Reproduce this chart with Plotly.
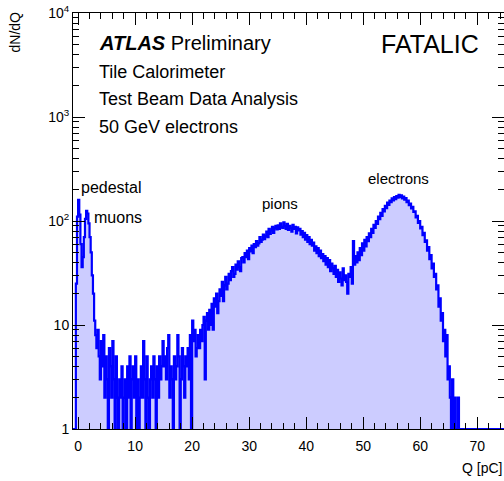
import plotly.graph_objects as go

# ---- data (histogram of charge Q, bin width 0.2 pC starting at -1.0 pC) ----
bin_start = -1.0
bin_width = 0.2

counts_pedestal = [0, 0, 1, 25, 110, 160, 115, 60, 36, 45,
                   70, 105, 125, 118, 95, 70, 50, 30, 20, 11]          # -1.0 .. 2.8
counts_noise = [8, 6, 9, 5, 3, 7, 4, 8, 2, 5,
                3, 0, 6, 4, 2, 7, 3, 1, 5, 2,
                0, 3, 2, 4, 0, 2, 3, 1, 4, 2,
                5, 0, 3, 4, 2, 5, 1, 3, 0, 2,
                4, 2, 7, 3, 0, 5, 2, 1, 3, 4,
                2, 5, 3, 0, 4, 2, 5, 3, 4, 7,
                4, 5, 3, 6, 8, 2, 4, 3, 0, 5,
                3, 4, 8, 5, 0, 3, 6, 4, 2, 5,
                4, 6, 3, 8, 0, 11, 7, 9, 5, 6]                          # 3.0 .. 20.8
counts_pions = [8, 6, 9, 7, 10, 12, 3, 11, 13, 9,
                14, 10, 16, 9, 18, 15, 20, 13, 17, 22,
                19, 26, 17, 24, 29, 22, 25, 31, 27, 33,
                36, 29, 31, 38, 34, 41, 36, 33, 44, 45,
                40, 49, 45, 52, 43, 55, 51, 58, 49, 60,
                56, 64, 58, 61, 70, 63, 66, 74, 67, 72,
                79, 70, 84, 75, 81, 88, 77, 86, 90, 83,
                91, 84, 95, 88, 86, 97, 89, 84, 94, 82,
                90, 86, 79, 92, 84, 88, 76, 87, 81, 84,
                74, 80, 70, 77, 66, 73, 63, 70, 60, 66,
                58, 62, 52, 57, 49, 55, 46, 52, 44, 48,
                41, 46, 38, 44, 36, 42, 33, 39, 35, 31,
                37, 29, 34, 26, 32, 28, 24, 35, 27, 30]                 # 21.0 .. 46.8
counts_electrons = [26, 20, 31, 29, 36, 25, 64, 38, 46, 40,
                    50, 42, 55, 47, 61, 52, 66, 57, 70, 64,
                    76, 70, 84, 77, 92, 86, 100, 94, 110, 104,
                    120, 112, 130, 124, 140, 133, 150, 143, 157, 152,
                    165, 158, 170, 162, 174, 168, 178, 170, 176, 165,
                    172, 160, 166, 152, 157, 142, 147, 132, 137, 122,
                    124, 108, 112, 96, 100, 85, 88, 73, 77, 63,
                    65, 52, 56, 43, 47, 35, 39, 29, 31, 22,
                    24, 15, 18, 11, 13, 7, 9, 5, 8, 3,
                    4, 2, 1, 3, 0, 2, 0, 1, 2, 0]                        # 47.0 .. 66.8
counts_empty = [0, 0, 0, 0, 0, 0, 0, 0, 0, 0,
                0, 0, 0, 0, 0, 0, 0, 0, 0, 0,
                0, 0, 0, 0, 0, 0, 0, 0, 0, 0,
                0, 0, 0, 0, 0, 0, 0, 0, 0, 0]                           # 67.0 .. 74.8

x_tickvals = [0, 10, 20, 30, 40, 50, 60, 70]
y_tickvals = [1, 10, 100, 1000, 10000]
y_ticktext = ["1", "10", "10<sup>2</sup>", "10<sup>3</sup>", "10<sup>4</sup>"]

counts = counts_pedestal + counts_noise + counts_pions + counts_electrons + counts_empty
edges = [bin_start + i * bin_width for i in range(len(counts) + 1)]
yvals = [max(c, 1) for c in counts]
yvals = yvals + [yvals[-1]]

# ---- layout geometry (pixels) ----
W, H = 504, 481
L, R, T, B = 73, 0, 13, 52
PW, PH = W - L - R, H - T - B


def px(x):
    return (x - L) / PW


def py(y):
    return (H - B - y) / PH


FONT = "Liberation Sans, Arial, Helvetica, sans-serif"

fig = go.Figure()
fig.add_trace(go.Scatter(x=edges, y=[1] * len(edges), mode="lines",
                         line=dict(width=0, shape="hv"), hoverinfo="skip",
                         showlegend=False))
fig.add_trace(go.Scatter(x=edges, y=yvals, mode="lines",
                         line=dict(color="#0000ff", width=2.2, shape="hv"),
                         fill="tonexty", fillcolor="rgba(204,204,255,1)",
                         showlegend=False))

minor_x = [v for v in range(2, 75, 2) if v % 10 != 0]
minor_y = [m * 10 ** e for e in range(4) for m in range(2, 10)]

fig.update_xaxes(range=[-0.9, 74.7], showgrid=False, zeroline=False,
                 showline=True, linecolor="black", linewidth=1, mirror="allticks",
                 ticks="inside", ticklen=12, tickwidth=1, tickcolor="black",
                 tickmode="array", tickvals=x_tickvals, ticklabelstandoff=4,
                 minor=dict(ticks="inside", ticklen=6, tickcolor="black",
                            tickmode="array", tickvals=minor_x, showgrid=False),
                 tickfont=dict(family=FONT, size=14, color="black"))
fig.update_yaxes(type="log", range=[0, 4], showgrid=False, zeroline=False,
                 showline=True, linecolor="black", linewidth=1, mirror="allticks",
                 ticks="inside", ticklen=12, tickwidth=1, tickcolor="black",
                 tickmode="array", tickvals=y_tickvals, ticktext=y_ticktext,
                 minor=dict(ticks="inside", ticklen=6, tickcolor="black",
                            tickmode="array", tickvals=minor_y, showgrid=False),
                 tickfont=dict(family=FONT, size=14, color="black"))

ann = []


def text(x, y, s, size, xanchor="left", yanchor="middle", angle=0):
    ann.append(dict(x=px(x), y=py(y), xref="paper", yref="paper", text=s,
                    showarrow=False, xanchor=xanchor, yanchor=yanchor,
                    textangle=angle, font=dict(family=FONT, size=size, color="black")))


text(97, 43, "<b><i>ATLAS</i></b> Preliminary", 20)
text(97, 72, "Tile Calorimeter", 18)
text(97, 99, "Test Beam Data Analysis", 18)
text(97, 127, "50 GeV electrons", 18)
text(481, 44, "FATALIC", 25, xanchor="right")
text(79, 188, "pedestal", 16)
text(92, 217, "muons", 16)
text(280, 203, "pions", 15, xanchor="center")
text(398, 178, "electrons", 15, xanchor="center")
text(504, 468, "Q [pC]", 14, xanchor="right")
text(15, 10, "dN/dQ", 14, xanchor="center", yanchor="top", angle=-90)

fig.update_layout(width=W, height=H, margin=dict(l=L, r=R, t=T, b=B),
                  plot_bgcolor="white", paper_bgcolor="white",
                  showlegend=False, annotations=ann,
                  font=dict(family=FONT, color="black"))

fig.write_html("out.html", config={"displayModeBar": False},
               post_script="document.body.style.margin='0px';")
